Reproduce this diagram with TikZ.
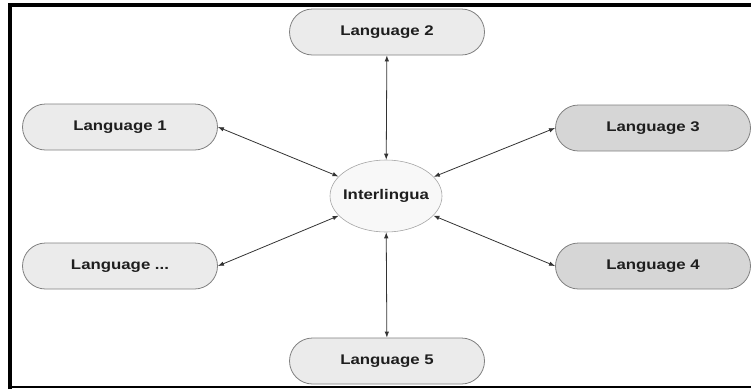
\documentclass[tikz,border=0pt]{standalone}
\usepackage{fontspec}
\setmainfont{Liberation Sans}[FakeStretch=1.2]
\usetikzlibrary{arrows.meta,shapes.geometric}
\definecolor{langfill}{HTML}{EBEBEB}
\definecolor{langdark}{HTML}{D6D6D6}
\definecolor{interfill}{HTML}{F8F8F8}
\definecolor{edgegray}{HTML}{808080}
\definecolor{textdark}{HTML}{1E1E1E}
\tikzset{
  lang/.style={draw=edgegray, line width=0.8pt, fill=langfill, rectangle,
    rounded corners=23pt, minimum width=195pt, minimum height=46pt,
    font=\bfseries\fontsize{14}{16}\selectfont, text=textdark},
  langdk/.style={lang, fill=langdark},
  hub/.style={draw=edgegray!70, line width=0.6pt, fill=interfill, ellipse,
    minimum width=112pt, minimum height=72pt, inner sep=0pt,
    font=\bfseries\fontsize{14}{16}\selectfont, text=textdark},
  link/.style={{Latex[length=6pt,width=4.5pt]}-{Latex[length=6pt,width=4.5pt]},
    draw=black!80, line width=0.8pt}
}
\begin{document}
\begin{tikzpicture}[x=1pt, y=-1pt]
\useasboundingbox (0,0) rectangle (751,389);

% frame
\draw[line width=4pt] (10,389) -- (10,5) -- (751,5);
\draw[line width=2pt] (10,387) -- (751,387);

% nodes
\node[hub] (inter) at (386,196) {\makebox[60pt][c]{Interlingua}};

\node[lang] (lang2) at (387,32) {Language 2};
\node[lang] (lang1) at (120,127) {Language 1};
\node[langdk] (lang3) at (653,128) {Language 3};
\node[lang] (langx) at (120,266) {Language ...};
\node[langdk] (lang4) at (653,266) {Language 4};
\node[lang] (lang5) at (387,361) {Language 5};

% links
\draw[link] (lang2) -- (inter);
\draw[link] (lang1.east) -- (inter);
\draw[link] (lang3.west) -- (inter);
\draw[link] (langx.east) -- (inter);
\draw[link] (lang4.west) -- (inter);
\draw[link] (lang5) -- (inter);
\end{tikzpicture}
\end{document}
